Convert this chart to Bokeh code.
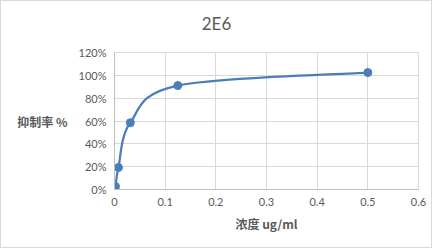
import numpy as np
from bokeh.plotting import figure
from bokeh.models import FixedTicker, Range1d, Label
from bokeh.embed import file_html
from bokeh.resources import INLINE

# ---- data ----
conc = [0.00195, 0.0078, 0.03125, 0.125, 0.5]
inhibition = [0.026, 0.193, 0.585, 0.91, 1.024]
x_ticks = [0, 0.1, 0.2, 0.3, 0.4, 0.5, 0.6]
x_tick_labels = ["0", "0.1", "0.2", "0.3", "0.4", "0.5", "0.6"]
y_ticks = [0, 0.2, 0.4, 0.6, 0.8, 1.0, 1.2]
y_tick_labels = ["0%", "20%", "40%", "60%", "80%", "100%", "120%"]
title_text = "2E6"
x_label = "浓度 ug/ml"
y_label = "抑制率 %"

BLUE = "#4a7ebb"
TXT = "#595959"
GRID = "#d9d9d9"
AXIS = "#bfbfbf"
LATIN = "Lato"
CJK = "Noto Sans CJK SC"

p = figure(width=432, height=248, output_backend="svg", toolbar_location=None,
           x_range=Range1d(0, 0.6), y_range=Range1d(0, 1.2),
           min_border_left=113, min_border_right=15,
           min_border_top=51, min_border_bottom=60)
p.styles = {"border": "1px solid #d9d9d9"}
p.background_fill_color = "white"
p.border_fill_color = "white"
p.outline_line_color = GRID

# chart title, placed in the top panel
t = Label(text=title_text, x=102, y=29.5, x_units="screen", y_units="screen",
          text_align="center", text_baseline="middle", text_font=LATIN,
          text_font_size="17px", text_color=TXT)
p.add_layout(t, "above")

# smoothed line (Catmull-Rom style Bezier through the points, as in Excel)
xs = np.array(conc)
ys = np.array(inhibition)
n = len(xs)
x0, y0, x1, y1, cx0, cy0, cx1, cy1 = ([] for _ in range(8))
for i in range(n - 1):
    xp, yp = (xs[i - 1], ys[i - 1]) if i > 0 else (xs[i], ys[i])
    xn, yn = (xs[i + 2], ys[i + 2]) if i + 2 < n else (xs[i + 1], ys[i + 1])
    x0.append(xs[i]); y0.append(ys[i])
    x1.append(xs[i + 1]); y1.append(ys[i + 1])
    cx0.append(xs[i] + (xs[i + 1] - xp) / 6); cy0.append(ys[i] + (ys[i + 1] - yp) / 6)
    cx1.append(xs[i + 1] - (xn - xs[i]) / 6); cy1.append(ys[i + 1] - (yn - ys[i]) / 6)
p.bezier(x0=x0, y0=y0, x1=x1, y1=y1, cx0=cx0, cy0=cy0, cx1=cx1, cy1=cy1,
         line_color=BLUE, line_width=2.25)
p.scatter(conc, inhibition, size=8, marker="circle", fill_color=BLUE, line_color=BLUE)

# axes
p.xaxis.ticker = FixedTicker(ticks=x_ticks)
p.xaxis.major_label_overrides = {float(v): s for v, s in zip(x_ticks, x_tick_labels)}
p.yaxis.ticker = FixedTicker(ticks=y_ticks)
p.yaxis.major_label_overrides = {float(v): s for v, s in zip(y_ticks, y_tick_labels)}
for ax in (p.xaxis, p.yaxis):
    ax.major_tick_in = 0
    ax.major_tick_out = 0
    ax.minor_tick_in = 0
    ax.minor_tick_out = 0
    ax.axis_line_color = AXIS
    ax.major_label_text_font = LATIN
    ax.major_label_text_font_size = "11px"
    ax.major_label_text_color = TXT
    ax.axis_label_text_font = CJK
    ax.axis_label_text_font_size = "12px"
    ax.axis_label_text_font_style = "bold"
    ax.axis_label_text_color = TXT
p.xaxis.major_label_standoff = 8
p.yaxis.major_label_standoff = 8
p.xaxis.axis_label = x_label
p.xaxis.axis_label_standoff = 6
p.yaxis.axis_label = y_label
p.yaxis.axis_label_orientation = "horizontal"
p.yaxis.axis_label_standoff = 8

p.xgrid.ticker = FixedTicker(ticks=x_ticks)
p.ygrid.ticker = FixedTicker(ticks=y_ticks)
p.xgrid.grid_line_color = GRID
p.ygrid.grid_line_color = GRID

open("out.html", "w").write(file_html(p, INLINE))
